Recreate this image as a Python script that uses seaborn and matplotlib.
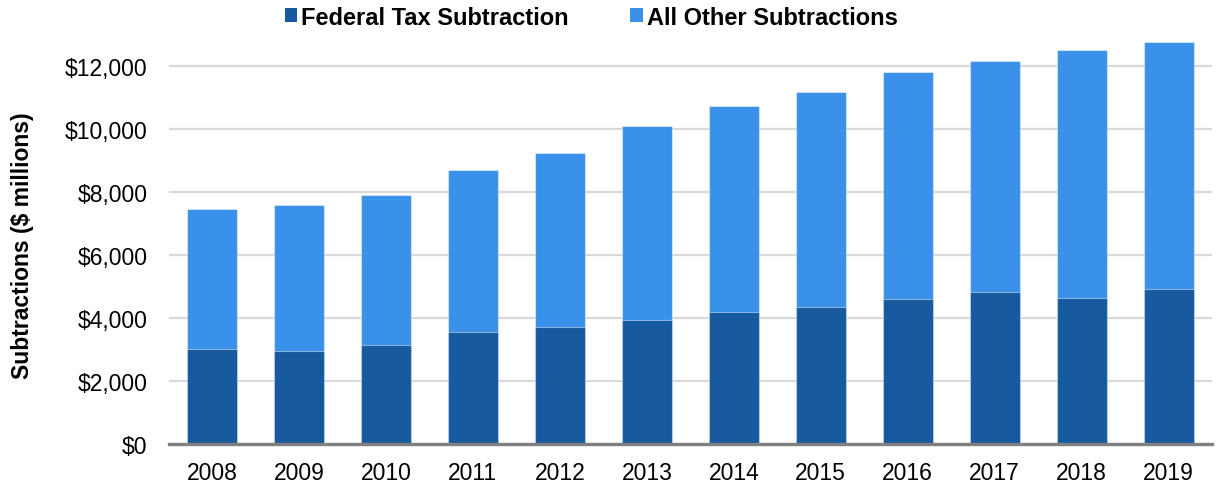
import matplotlib
matplotlib.use("Agg")
import matplotlib.pyplot as plt
from matplotlib.patches import Patch
from matplotlib.ticker import FuncFormatter, MultipleLocator
import seaborn as sns
import pandas as pd

# Subtractions by year, $ millions
years = ["2008", "2009", "2010", "2011", "2012", "2013",
         "2014", "2015", "2016", "2017", "2018", "2019"]
federal_tax = [3035, 2970, 3160, 3555, 3725, 3955,
               4190, 4350, 4590, 4825, 4645, 4930]
all_other = [4415, 4600, 4755, 5155, 5500, 6140,
             6520, 6825, 7220, 7325, 7845, 7835]

series_names = ["Federal Tax Subtraction", "All Other Subtractions"]
dark_blue = "#175A9F"
light_blue = "#3A91E9"

df = pd.DataFrame({"year": years, "federal": federal_tax, "other": all_other})
df["total"] = df["federal"] + df["other"]

sns.set_theme(style="white")
plt.rcParams["font.family"] = ["Liberation Sans", "DejaVu Sans"]
plt.rcParams["text.color"] = "black"
plt.rcParams["axes.labelcolor"] = "black"

fig = plt.figure(figsize=(12.16, 4.89), dpi=100)
ax = fig.add_axes([0.1386, 0.0894, 0.8582, 0.8386])

edge = (1, 1, 1, 0.45)
# stacked bars: full height in the light colour, federal share drawn over it
sns.barplot(data=df, x="year", y="total", color=light_blue, width=0.575,
            saturation=1, edgecolor=edge, linewidth=0.8, ax=ax, zorder=3)
sns.barplot(data=df, x="year", y="federal", color=dark_blue, width=0.575,
            saturation=1, edgecolor=edge, linewidth=0.8, ax=ax, zorder=4)

ax.set_ylim(0, 13000)
ax.set_xlim(-0.5, len(years) - 0.5)
ax.yaxis.set_major_locator(MultipleLocator(2000))
ax.yaxis.set_major_formatter(FuncFormatter(lambda v, p: f"${v:,.0f}"))
ax.grid(axis="y", color="#d9d9d9", linewidth=1.6, zorder=0)
ax.set_axisbelow(True)

for side in ("top", "right", "left"):
    ax.spines[side].set_visible(False)
ax.spines["bottom"].set_color("#808080")
ax.spines["bottom"].set_linewidth(2.4)
ax.spines["bottom"].set_zorder(5)

ax.tick_params(axis="y", length=0, pad=15, labelsize=16.5, labelcolor="black")
ax.tick_params(axis="x", length=0, pad=12, labelsize=16.5, labelcolor="black")
ax.set_xlabel("")
ax.set_ylabel("Subtractions ($ millions)", fontsize=16.5, fontweight="bold",
              color="black")
ax.yaxis.set_label_coords(-0.129, 0.487)

handles = [Patch(facecolor=dark_blue, edgecolor="none"),
           Patch(facecolor=light_blue, edgecolor="none")]
fig.legend(handles, series_names, loc="center", bbox_to_anchor=(0.486, 0.963),
           ncol=2, frameon=False, prop={"size": 17, "weight": "bold"},
           handlelength=0.55, handleheight=0.55, handletextpad=0.15,
           columnspacing=2.6)

fig.savefig("out.png", dpi=100)
